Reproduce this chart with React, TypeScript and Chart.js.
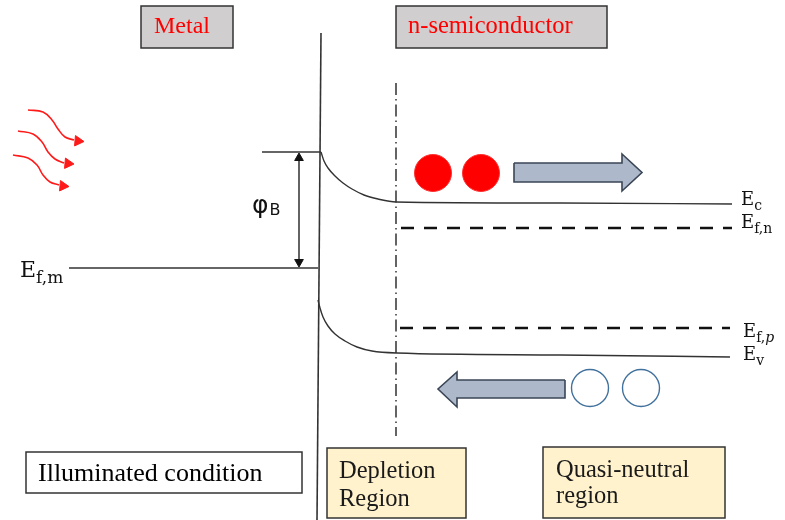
import React, { useEffect, useRef } from "react";
import { Chart, registerables } from "chart.js";
Chart.register(...registerables);

type P = { x: number; y: number };

// ---- band diagram data (x: position across the junction, y: energy, drawn downward) ----
const interfaceLine: P[] = [{ x: 321, y: 33 }, { x: 317, y: 520 }];
const barrierTop: P[] = [{ x: 262, y: 152 }, { x: 321, y: 152 }];
const metalFermi: P[] = [{ x: 69, y: 268 }, { x: 318, y: 268 }];
const conductionBand: P[] = [
  { x: 321, y: 152 }, { x: 324, y: 161 }, { x: 328, y: 168 }, { x: 335, y: 176 },
  { x: 343, y: 183 }, { x: 352, y: 189 }, { x: 364, y: 195 }, { x: 378, y: 199 },
  { x: 396, y: 202 }, { x: 560, y: 203 }, { x: 732, y: 204 },
];
const valenceBand: P[] = [
  { x: 318, y: 300 }, { x: 320, y: 308 }, { x: 323, y: 317 }, { x: 328, y: 326 },
  { x: 335, y: 334 }, { x: 345, y: 341 }, { x: 357, y: 347 }, { x: 372, y: 351 },
  { x: 397, y: 353 }, { x: 560, y: 355 }, { x: 730, y: 357 },
];
const quasiFermiN: P[] = [{ x: 401, y: 228 }, { x: 732, y: 228 }];
const quasiFermiP: P[] = [{ x: 400, y: 328 }, { x: 730, y: 328 }];
const depletionEdge: P[] = [{ x: 396, y: 83 }, { x: 396, y: 436 }];
const barrierArrow: P[] = [{ x: 299, y: 156 }, { x: 299, y: 264 }];
const barrierHeadUp: P[] = [{ x: 299, y: 158 }];
const barrierHeadDown: P[] = [{ x: 299, y: 262 }];
const lightRay1: P[] = [
  { x: 28, y: 110 }, { x: 43, y: 112 }, { x: 52, y: 120 }, { x: 58, y: 129 },
  { x: 65, y: 137 }, { x: 74, y: 140 },
];
const lightRay2: P[] = [
  { x: 18, y: 131 }, { x: 33, y: 134 }, { x: 42, y: 142 }, { x: 48, y: 152 },
  { x: 55, y: 159 }, { x: 64, y: 163 },
];
const lightRay3: P[] = [
  { x: 13, y: 155 }, { x: 28, y: 158 }, { x: 37, y: 165 }, { x: 43, y: 175 },
  { x: 50, y: 182 }, { x: 59, y: 185 },
];
const lightHeads: P[] = [{ x: 78, y: 141 }, { x: 68, y: 163.5 }, { x: 63, y: 186 }];
const electrons: P[] = [{ x: 433, y: 173 }, { x: 481, y: 173 }];
const holes: P[] = [{ x: 590, y: 388 }, { x: 641, y: 388 }];
const electronFlow: P[] = [
  { x: 514, y: 163 }, { x: 622, y: 163 }, { x: 622, y: 154 }, { x: 642, y: 172.5 },
  { x: 622, y: 191 }, { x: 622, y: 182 }, { x: 514, y: 182 }, { x: 514, y: 163 },
];
const holeFlow: P[] = [
  { x: 565, y: 380 }, { x: 457, y: 380 }, { x: 457, y: 372 }, { x: 438, y: 389 },
  { x: 457, y: 407 }, { x: 457, y: 398 }, { x: 565, y: 398 }, { x: 565, y: 380 },
];

// ---- annotation boxes and labels ----
const boxRects = [
  [141, 6, 233, 48], [396, 6, 607, 48], [26, 452, 302, 493], [327, 448, 466, 518], [543, 447, 725, 518],
];
const boxFills = ["#d0cece", "#d0cece", "#ffffff", "#fff2cc", "#fff2cc"];
const titleTexts = ["Metal", "n-semiconductor", "Illuminated condition", "Depletion", "Region", "Quasi-neutral", "region"];
const titlePos = [[154, 33], [408, 33], [38, 481], [339, 478], [339, 506], [556, 477], [556, 503]];
const titleSizes = [24, 24.5, 26, 24.5, 24.5, 24.5, 24.5];
const titleWidths = [58, 169, 228, 96, 70, 136, 60];
const titleColors = ["#ff0000", "#ff0000", "#000", "#1a1a1a", "#1a1a1a", "#1a1a1a", "#1a1a1a"];
const levelMain = ["E", "E", "E", "E", "E"];
const levelSubs = ["f,m", "c", "f,n", "f,p", "v"];
const levelPos = [[20, 277], [741, 205], [741, 228], [743, 337], [743, 360]];
const levelSizes = [22, 18, 18, 18, 18];

const TITLE_FONT = "'Liberation Serif', 'DejaVu Serif', serif";
const LEVEL_FONT = "'DejaVu Serif', 'Liberation Serif', serif";

const diagramPlugin = {
  id: "diagram",
  beforeDatasetsDraw(chart: any) {
    const { ctx, scales } = chart;
    const sx = (v: number) => scales.x.getPixelForValue(v);
    const sy = (v: number) => scales.y.getPixelForValue(v);
    ctx.save();
    boxRects.forEach((r, i) => {
      const x0 = sx(r[0]), y0 = sy(r[1]), x1 = sx(r[2]), y1 = sy(r[3]);
      ctx.fillStyle = boxFills[i];
      ctx.fillRect(x0, y0, x1 - x0, y1 - y0);
      ctx.lineWidth = 1.5;
      ctx.strokeStyle = "#333";
      ctx.strokeRect(x0, y0, x1 - x0, y1 - y0);
    });
    ctx.restore();
  },
  afterDatasetsDraw(chart: any) {
    const { ctx, scales } = chart;
    const sx = (v: number) => scales.x.getPixelForValue(v);
    const sy = (v: number) => scales.y.getPixelForValue(v);
    ctx.save();
    ctx.textBaseline = "alphabetic";
    ctx.textAlign = "left";
    titleTexts.forEach((t, i) => {
      ctx.fillStyle = titleColors[i];
      ctx.font = `${titleSizes[i]}px ${TITLE_FONT}`;
      const x = sx(titlePos[i][0]), y = sy(titlePos[i][1]);
      ctx.fillText(t, x, y, titleWidths[i] + 4);
    });
    levelMain.forEach((m, i) => {
      const x = sx(levelPos[i][0]), y = sy(levelPos[i][1]);
      const size = levelSizes[i];
      ctx.fillStyle = "#111";
      ctx.font = `${size}px ${LEVEL_FONT}`;
      ctx.fillText(m, x, y);
      const w = ctx.measureText(m).width;
      const sub = levelSubs[i];
      const subSize = Math.round(size * 0.77);
      if (sub === "f,p") {
        ctx.font = `${subSize}px ${LEVEL_FONT}`;
        ctx.fillText("f,", x + w, y + 5);
        const w2 = ctx.measureText("f,").width;
        ctx.font = `italic ${subSize}px ${LEVEL_FONT}`;
        ctx.fillText("p", x + w + w2, y + 5);
      } else {
        ctx.font = `${subSize}px ${LEVEL_FONT}`;
        ctx.fillText(sub, x + w, y + (i === 0 ? 6 : 5));
      }
    });
    // barrier height label
    ctx.fillStyle = "#111";
    ctx.font = `25px 'DejaVu Sans', sans-serif`;
    ctx.fillText("φ", sx(252), sy(213));
    const pw = ctx.measureText("φ").width;
    ctx.font = `16px 'DejaVu Sans', sans-serif`;
    ctx.fillText("B", sx(252) + pw + 1, sy(215));
    ctx.restore();
  },
};

const line = (data: P[], extra: any = {}) => ({
  data,
  showLine: true,
  borderColor: "#333",
  borderWidth: 1.4,
  pointRadius: 0,
  fill: false,
  clip: false,
  ...extra,
});

export default function App() {
  const ref = useRef<HTMLCanvasElement>(null);
  useEffect(() => {
    if (!ref.current) return;
    const red = "#ff1a1a";
    const chart = new Chart(ref.current, {
      type: "scatter",
      data: {
        datasets: [
          line(electronFlow, { fill: "shape", backgroundColor: "#adb9ca", borderColor: "#3a4656", borderWidth: 1.6 }),
          line(holeFlow, { fill: "shape", backgroundColor: "#adb9ca", borderColor: "#3a4656", borderWidth: 1.6 }),
          line(interfaceLine, { borderWidth: 1.6 }),
          line(barrierTop),
          line(metalFermi),
          line(conductionBand, { cubicInterpolationMode: "monotone" }),
          line(valenceBand, { cubicInterpolationMode: "monotone" }),
          line(quasiFermiN, { borderColor: "#111", borderWidth: 2.6, borderDash: [13, 10] }),
          line(quasiFermiP, { borderColor: "#111", borderWidth: 2.6, borderDash: [13, 10] }),
          line(depletionEdge, { borderColor: "#111", borderWidth: 1.3, borderDash: [12, 4, 1.5, 4] }),
          line(barrierArrow, { borderColor: "#111", borderWidth: 1.3 }),
          { data: barrierHeadUp, pointStyle: "triangle", pointRadius: 5, pointRotation: 0, backgroundColor: "#111", borderColor: "#111", clip: false },
          { data: barrierHeadDown, pointStyle: "triangle", pointRadius: 5, pointRotation: 180, backgroundColor: "#111", borderColor: "#111", clip: false },
          line(lightRay1, { borderColor: red, borderWidth: 1.6, tension: 0.4 }),
          line(lightRay2, { borderColor: red, borderWidth: 1.6, tension: 0.4 }),
          line(lightRay3, { borderColor: red, borderWidth: 1.6, tension: 0.4 }),
          { data: lightHeads, pointStyle: "triangle", pointRadius: 6, pointRotation: 95, backgroundColor: red, borderColor: red, clip: false },
          { data: electrons, pointStyle: "circle", pointRadius: 18.5, backgroundColor: "#ff0000", borderColor: "#ff3030", borderWidth: 1, clip: false },
          { data: holes, pointStyle: "circle", pointRadius: 18.5, backgroundColor: "#ffffff", borderColor: "#41719c", borderWidth: 1.4, clip: false },
        ],
      },
      options: {
        responsive: false,
        animation: false,
        events: [],
        layout: { padding: 0, autoPadding: false },
        plugins: { legend: { display: false }, tooltip: { enabled: false } },
        scales: {
          x: { type: "linear", min: 0, max: 785, display: false },
          y: { type: "linear", min: 0, max: 520, reverse: true, display: false },
        },
      },
      plugins: [diagramPlugin],
    });
    return () => chart.destroy();
  }, []);
  return (
    <div style={{ position: "absolute", left: 0, top: 0, width: 785, height: 520, background: "#fff" }}>
      <canvas ref={ref} width={785} height={520} />
    </div>
  );
}
